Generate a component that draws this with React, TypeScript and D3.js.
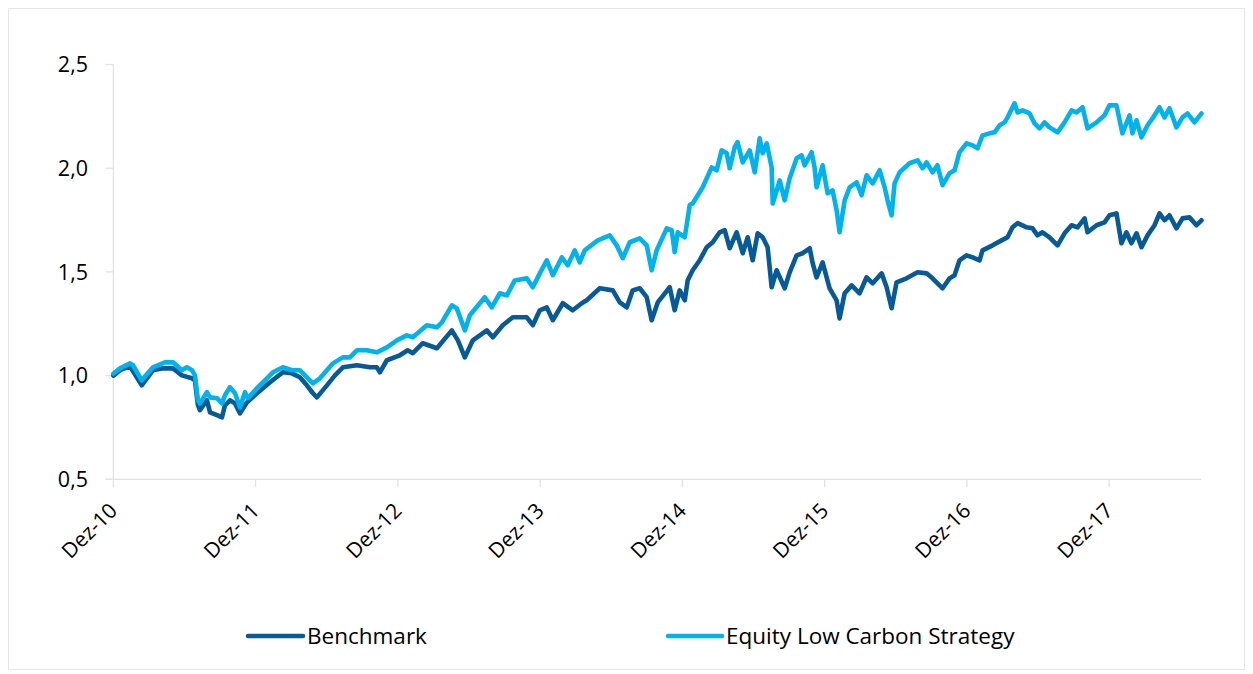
import React from "react";
import * as d3 from "d3";

// Time in months since Dec 2010 (Dez-10)
const xTickMonths = [0, 12, 24, 36, 48, 60, 72, 84];
const xTickLabels = ["Dez-10", "Dez-11", "Dez-12", "Dez-13", "Dez-14", "Dez-15", "Dez-16", "Dez-17"];
const yTicks = [0.5, 1.0, 1.5, 2.0, 2.5];
const seriesNames = ["Benchmark", "Equity Low Carbon Strategy"];
const seriesColors = ["#065A98", "#00B3EE"];

const benchmarkMonths = [
  0, 0.56, 1.4, 2.39, 3.34, 4.18, 5.03, 5.78, 6.63, 6.88, 7.13, 7.3, 7.89, 8.15, 8.74, 9.16, 9.41, 9.83, 10.26, 10.68,
  11.27, 12.11, 13.21, 14.3, 15.06, 15.73, 16.32, 16.83, 17.17, 18.01, 18.69, 19.36, 20.54, 21.64, 22.22, 22.48, 23.07,
  24.16, 24.83, 25.26, 26.1, 27.29, 28.55, 29.06, 29.65, 30.32, 31.5, 32.01, 32.85, 33.69, 34.87, 35.38, 35.97, 36.56,
  37.07, 37.91, 38.75, 39.51, 39.93, 41.03, 42.13, 42.72, 43.31, 43.81, 44.4, 44.99, 45.41, 45.92, 46.93, 47.35, 47.77,
  48.2, 48.45, 48.87, 49.46, 50.05, 50.56, 51.15, 51.57, 51.99, 52.58, 53.09, 53.51, 53.93, 54.35, 54.77, 55.19, 55.53,
  55.95, 56.63, 57.05, 57.64, 58.15, 58.74, 58.99, 59.32, 59.83, 60.42, 61.01, 61.26, 61.69, 62.28, 62.95, 63.54, 64.05,
  64.81, 65.23, 65.65, 66.07, 66.91, 67.84, 68.6, 69.1, 69.95, 70.54, 70.96, 71.38, 71.97, 72.48, 73.07, 73.32, 74.17,
  74.93, 75.43, 75.85, 76.28, 77.04, 77.54, 77.96, 78.38, 78.97, 79.65, 80.24, 80.83, 81.34, 81.93, 82.18, 82.94, 83.61,
  84.03, 84.62, 85.04, 85.46, 85.88, 86.31, 86.73, 87.24, 87.83, 88.25, 88.67, 89.09, 89.68, 90.19, 90.78, 91.37, 91.79,
];
const benchmarkValues = [
  1.0, 1.026, 1.045, 0.953, 1.026, 1.035, 1.035, 1.001, 0.987, 0.977, 0.857, 0.833, 0.881, 0.823, 0.809, 0.799, 0.857,
  0.881, 0.866, 0.818, 0.871, 0.915, 0.968, 1.016, 1.011, 0.992, 0.953, 0.915, 0.895, 0.953, 1.001, 1.04, 1.05, 1.04,
  1.04, 1.016, 1.074, 1.098, 1.122, 1.108, 1.156, 1.132, 1.218, 1.17, 1.088, 1.17, 1.218, 1.185, 1.243, 1.281, 1.281,
  1.243, 1.315, 1.329, 1.267, 1.349, 1.315, 1.349, 1.363, 1.421, 1.411, 1.353, 1.329, 1.411, 1.421, 1.378, 1.267, 1.353,
  1.426, 1.315, 1.411, 1.363, 1.46, 1.508, 1.556, 1.619, 1.643, 1.691, 1.701, 1.614, 1.691, 1.59, 1.667, 1.556, 1.686,
  1.667, 1.619, 1.426, 1.508, 1.421, 1.498, 1.58, 1.59, 1.614, 1.542, 1.474, 1.546, 1.421, 1.363, 1.276, 1.397, 1.435,
  1.397, 1.474, 1.445, 1.493, 1.426, 1.325, 1.45, 1.469, 1.498, 1.493, 1.469, 1.421, 1.469, 1.484, 1.556, 1.58, 1.57,
  1.556, 1.604, 1.628, 1.652, 1.667, 1.715, 1.735, 1.715, 1.71, 1.676, 1.691, 1.667, 1.628, 1.686, 1.725, 1.715, 1.758,
  1.691, 1.725, 1.739, 1.773, 1.782, 1.638, 1.691, 1.638, 1.686, 1.619, 1.676, 1.725, 1.782, 1.749, 1.773, 1.71, 1.758,
  1.763, 1.725, 1.749,
];

const strategyMonths = [
  0, 0.56, 1.4, 1.65, 2.39, 3.34, 4.35, 5.03, 5.78, 6.2, 6.63, 6.88, 7.13, 7.3, 7.89, 8.15, 8.74, 9.16, 9.41, 9.83,
  10.26, 10.68, 11.1, 11.35, 12.11, 12.95, 13.46, 14.3, 15.06, 15.73, 16.32, 16.83, 17.42, 18.01, 18.52, 19.36, 19.95,
  20.54, 21.38, 22.22, 23.07, 23.91, 24.75, 25.26, 26.44, 27.29, 27.71, 28.55, 28.97, 29.65, 30.07, 31.33, 31.92, 32.6,
  33.19, 33.86, 34.87, 35.38, 35.97, 36.56, 37.07, 37.83, 38.33, 38.92, 39.34, 39.76, 40.86, 41.87, 42.46, 42.97, 43.56,
  44.4, 44.99, 45.41, 45.83, 46.68, 47.1, 47.35, 47.61, 48.2, 48.62, 48.87, 49.71, 50.47, 50.89, 51.31, 51.74, 51.99,
  52.41, 52.66, 53.09, 53.68, 54.1, 54.52, 54.77, 55.11, 55.53, 55.62, 56.21, 56.63, 57.05, 57.64, 58.06, 58.31, 58.9,
  59.15, 59.32, 59.83, 60.25, 60.67, 61.01, 61.26, 61.69, 62.11, 62.7, 63.12, 63.54, 64.05, 64.64, 65.06, 65.31, 65.65,
  65.9, 66.32, 67.16, 67.84, 68.26, 68.6, 69.1, 69.52, 69.95, 70.54, 70.96, 71.38, 71.97, 72.48, 72.9, 73.32, 73.91,
  74.34, 74.76, 75.18, 75.43, 76.02, 76.28, 76.7, 77.29, 77.71, 78.13, 78.55, 78.97, 79.65, 80.24, 80.83, 81.25, 81.76,
  82.18, 82.94, 83.61, 84.03, 84.62, 85.12, 85.72, 85.97, 86.31, 86.73, 87.24, 87.66, 88.25, 88.67, 89.09, 89.68, 90.19,
  90.61, 91.2, 91.79,
];
const strategyValues = [
  1.01, 1.035, 1.059, 1.05, 0.977, 1.04, 1.064, 1.064, 1.026, 1.04, 1.026, 1.001, 0.881, 0.866, 0.92, 0.895, 0.891,
  0.866, 0.905, 0.944, 0.915, 0.847, 0.92, 0.891, 0.939, 0.987, 1.016, 1.04, 1.026, 1.026, 0.992, 0.963, 0.987, 1.026,
  1.059, 1.088, 1.088, 1.122, 1.122, 1.112, 1.136, 1.17, 1.194, 1.185, 1.243, 1.233, 1.257, 1.339, 1.324, 1.218, 1.291,
  1.378, 1.329, 1.397, 1.387, 1.459, 1.469, 1.426, 1.493, 1.556, 1.484, 1.57, 1.532, 1.604, 1.546, 1.604, 1.652, 1.676,
  1.628, 1.566, 1.643, 1.662, 1.628, 1.508, 1.604, 1.71, 1.701, 1.595, 1.691, 1.667, 1.822, 1.83, 1.908, 2.004, 1.99,
  2.086, 2.072, 2.0, 2.101, 2.125, 2.028, 2.086, 1.98, 2.144, 2.072, 2.12, 2.004, 1.83, 1.941, 1.845, 1.951, 2.048,
  2.062, 2.014, 2.077, 2.004, 1.908, 2.014, 1.879, 1.893, 1.797, 1.691, 1.845, 1.908, 1.932, 1.87, 1.966, 1.927, 1.99,
  1.908, 1.845, 1.773, 1.927, 1.98, 2.024, 2.038, 2.0, 2.028, 1.98, 2.014, 1.918, 1.976, 1.99, 2.077, 2.12, 2.11, 2.096,
  2.158, 2.168, 2.173, 2.207, 2.221, 2.245, 2.313, 2.269, 2.279, 2.264, 2.216, 2.192, 2.221, 2.197, 2.173, 2.221, 2.279,
  2.269, 2.294, 2.192, 2.221, 2.255, 2.303, 2.303, 2.168, 2.255, 2.168, 2.231, 2.149, 2.207, 2.24, 2.294, 2.245, 2.289,
  2.197, 2.245, 2.264, 2.221, 2.264,
];

const W = 1253;
const H = 674;
const FONT = "'Open Sans', 'DejaVu Sans', sans-serif";

export default function App() {
  const x = d3.scaleLinear().domain([0, 91.75]).range([113.4, 1201]);
  const y = d3.scaleLinear().domain([0.5, 2.5]).range([479.3, 64.5]);
  const line = d3
    .line<[number, number]>()
    .x((d) => x(d[0]))
    .y((d) => y(d[1]))
    .curve(d3.curveLinear);
  const bench: [number, number][] = benchmarkMonths.map((m, i) => [m, benchmarkValues[i]]);
  const strat: [number, number][] = strategyMonths.map((m, i) => [m, strategyValues[i]]);
  const fmt = (v: number) => d3.format(".1f")(v).replace(".", ",");
  const axisColor = "#E3E3E3";
  const x0 = x(0);
  const y0 = y(0.5);

  const legend = [
    { x1: 248, x2: 303, tx: 307 },
    { x1: 668, x2: 722, tx: 726 },
  ];

  return (
    <svg
      width={W}
      height={H}
      style={{ position: "absolute", left: 0, top: 0, background: "#fff" }}
      fontFamily={FONT}
    >
      <rect x={8.5} y={8.5} width={1236} height={661} fill="#fff" stroke="#E6E6E6" strokeWidth={1} />
      {/* Y axis */}
      <line x1={x0} x2={x0} y1={y(2.5)} y2={y0} stroke={axisColor} strokeWidth={1.3} />
      {yTicks.map((t) => (
        <g key={t}>
          <line x1={x0 - 8} x2={x0} y1={y(t)} y2={y(t)} stroke={axisColor} strokeWidth={1.3} />
          <text x={88} y={y(t)} dy="0.36em" textAnchor="end" fontSize={21.5} fill="#000">
            {fmt(t)}
          </text>
        </g>
      ))}
      {/* X axis */}
      <line x1={x0 - 8} x2={x(91.75)} y1={y0} y2={y0} stroke={axisColor} strokeWidth={1.3} />
      {xTickMonths.map((m, i) => (
        <g key={m}>
          <line x1={x(m)} x2={x(m)} y1={y0} y2={y0 + 8} stroke={axisColor} strokeWidth={1.3} />
          <text
            transform={`translate(${x(m) + 5},${512}) rotate(-45)`}
            textAnchor="end"
            fontSize={21}
            fill="#000"
          >
            {xTickLabels[i]}
          </text>
        </g>
      ))}
      {/* Lines */}
      <path d={line(bench) || ""} fill="none" stroke={seriesColors[0]} strokeWidth={4.6} strokeLinejoin="round" strokeLinecap="round" />
      <path d={line(strat) || ""} fill="none" stroke={seriesColors[1]} strokeWidth={4.6} strokeLinejoin="round" strokeLinecap="round" />
      {/* Legend */}
      {legend.map((l, i) => (
        <g key={i}>
          <line x1={l.x1} x2={l.x2} y1={636} y2={636} stroke={seriesColors[i]} strokeWidth={4.5} strokeLinecap="round" />
          <text x={l.tx} y={636} dy="0.36em" fontSize={22.5} fill="#000">
            {seriesNames[i]}
          </text>
        </g>
      ))}
    </svg>
  );
}
